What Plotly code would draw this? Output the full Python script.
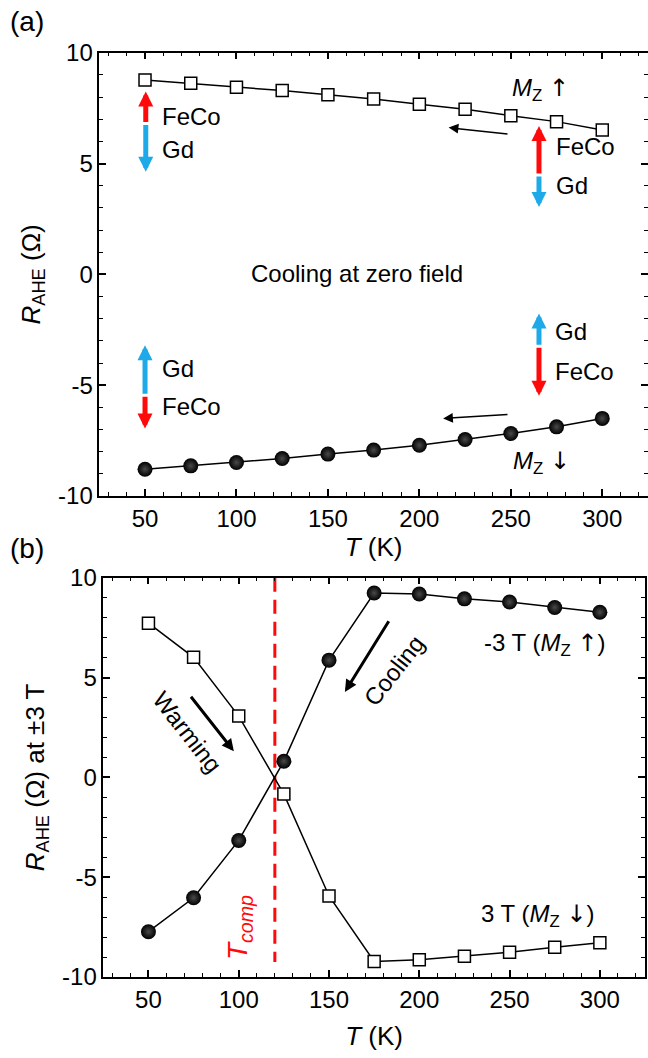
import plotly.graph_objects as go

# ---------------- data ----------------
T = [50, 75, 100, 125, 150, 175, 200, 225, 250, 275, 300]

# panel (a): cooling at zero field
RA_MZ_UP = [8.77, 8.62, 8.44, 8.29, 8.10, 7.91, 7.67, 7.45, 7.16, 6.89, 6.51]
RA_MZ_DOWN = [-8.79, -8.64, -8.49, -8.31, -8.11, -7.93, -7.71, -7.45, -7.18, -6.88, -6.50]

# panel (b): R_AHE at +-3 T
RB_MINUS3T = [-7.73, -6.03, -3.16, 0.81, 5.87, 9.23, 9.18, 8.94, 8.78, 8.51, 8.27]
RB_PLUS3T = [7.72, 6.01, 3.07, -0.84, -5.94, -9.22, -9.14, -8.96, -8.76, -8.51, -8.29]

T_COMP = 120
TCOMP_LINE_Y = [10, -9.25]

X_TICKS = [50, 100, 150, 200, 250, 300]
X_TICKTEXT = ["50", "100", "150", "200", "250", "300"]
Y_TICKS = [-10, -5, 0, 5, 10]
Y_TICKTEXT = ["-10", "-5", "0", "5", "10"]
X_MINOR = [t for t in range(30, 330, 10) if t % 50]
Y_MINOR = [v for v in range(-9, 10) if v % 5]

# ---------------- styles ----------------
FONT = "Arial, Liberation Sans, sans-serif"
RED = "#ff0a0a"
BLUE = "#1ea9e8"
W, H = 648, 1058
UP = '<span style="font-family:DejaVu Sans">↑</span>'
DOWN = '<span style="font-family:DejaVu Sans">↓</span>'

fig = go.Figure()

sq_marker = dict(symbol="square", size=12, color="white",
                 line=dict(color="black", width=1.5))
ball_marker = dict(symbol="circle", size=15, color="black",
                   gradient=dict(type="radial", color="#4a4a4a"),
                   line=dict(width=0))
line_style = dict(color="black", width=1.5)

fig.add_trace(go.Scatter(x=T, y=RA_MZ_UP, mode="lines+markers", xaxis="x", yaxis="y",
                         line=line_style, marker=sq_marker, showlegend=False))
fig.add_trace(go.Scatter(x=T, y=RA_MZ_DOWN, mode="lines+markers", xaxis="x", yaxis="y",
                         line=line_style, marker=ball_marker, showlegend=False))

fig.add_trace(go.Scatter(x=[T_COMP, T_COMP], y=TCOMP_LINE_Y, mode="lines", xaxis="x2", yaxis="y2",
                         line=dict(color=RED, width=3, dash="14px,8px"), showlegend=False))
fig.add_trace(go.Scatter(x=T, y=RB_PLUS3T, mode="lines+markers", xaxis="x2", yaxis="y2",
                         line=line_style, marker=sq_marker, showlegend=False))
fig.add_trace(go.Scatter(x=T, y=RB_MINUS3T, mode="lines+markers", xaxis="x2", yaxis="y2",
                         line=line_style, marker=ball_marker, showlegend=False))

axis_common = dict(
    showline=True, linecolor="black", linewidth=1.5, mirror="ticks",
    ticks="inside", ticklen=7, tickwidth=1.5, tickcolor="black",
    showgrid=False, zeroline=False, automargin=False,
    tickfont=dict(family=FONT, size=24, color="black"),
)
x_common = dict(axis_common, range=[25, 325], tickmode="array",
                tickvals=X_TICKS, ticktext=X_TICKTEXT,
                minor=dict(tickmode="array", tickvals=X_MINOR, ticks="inside", ticklen=4,
                           tickwidth=1.2, tickcolor="black", showgrid=False))
y_common = dict(axis_common, range=[-10, 10], tickmode="array",
                tickvals=Y_TICKS, ticktext=Y_TICKTEXT,
                minor=dict(tickmode="array", tickvals=Y_MINOR, ticks="inside", ticklen=4,
                           tickwidth=1.2, tickcolor="black", showgrid=False))
XTITLE_FONT = dict(family=FONT, size=26, color="black")

fig.update_layout(
    width=W, height=H,
    margin=dict(l=0, r=0, t=0, b=0, autoexpand=False),
    paper_bgcolor="white", plot_bgcolor="white",
    font=dict(family=FONT, size=24, color="black"),
    xaxis=dict(x_common, domain=[99.3 / W, 1.0], anchor="y",
               title=dict(text="<i>T</i> (K)", font=XTITLE_FONT, standoff=6)),
    yaxis=dict(y_common, domain=[1 - 496 / H, 1 - 52.7 / H], anchor="x",
               title=dict(text="<i>R</i><sub>AHE</sub> (Ω)",
                          font=dict(family=FONT, size=26, color="black"), standoff=10)),
    xaxis2=dict(x_common, domain=[103.3 / W, 645 / W], anchor="y2",
                title=dict(text="<i>T</i> (K)", font=XTITLE_FONT, standoff=15)),
    yaxis2=dict(y_common, domain=[1 - 977 / H, 1 - 577.7 / H], anchor="x2",
                title=dict(text="<i>R</i><sub>AHE</sub> (Ω) at ±3 T",
                           font=dict(family=FONT, size=26, color="black"), standoff=10)),
)

ann = []


def text(xr, yr, x, y, s, size=24, color="black", xanchor="center", angle=0):
    ann.append(dict(xref=xr, yref=yr, x=x, y=y, text=s, showarrow=False,
                    xanchor=xanchor, yanchor="middle", textangle=angle,
                    font=dict(family=FONT, size=size, color=color)))


def arrow(xr, yr, x_tail, y_tail, x_head, y_head, color, width, size, head=2):
    ann.append(dict(xref=xr, yref=yr, axref=xr, ayref=yr,
                    x=x_head, y=y_head, ax=x_tail, ay=y_tail, text="",
                    showarrow=True, arrowhead=head, arrowsize=size,
                    arrowwidth=width, arrowcolor=color, standoff=0, startstandoff=0))


# panel labels
text("paper", "paper", 8 / W, 1 - 22 / H, "(a)", size=28, xanchor="left")
text("paper", "paper", 8 / W, 1 - 548 / H, "(b)", size=28, xanchor="left")

# ---- panel (a) annotations ----
text("x", "y", 166, 0.05, "Cooling at zero field")
text("x", "y", 266, 8.35, "<i>M</i><sub>Z</sub> " + UP)
text("x", "y", 267, -8.5, "<i>M</i><sub>Z</sub> " + DOWN)
arrow("x", "y", 249, 6.32, 216, 6.62, "black", 1.5, 1.3)
arrow("x", "y", 249, -6.32, 213, -6.5, "black", 1.5, 1.3)

# moment arrows: (T, centre, up tip, down tip, up color, down color)
MOMENTS = [
    (50.4, 6.81, 8.25, 4.63, RED, BLUE),
    (265.4, 4.48, 6.69, 3.04, RED, BLUE),
    (50.0, -5.45, -3.2, -6.95, BLUE, RED),
    (265.4, -3.24, -1.77, -5.48, BLUE, RED),
]
for tx, yc, yup, ydn, cu, cd in MOMENTS:
    arrow("x", "y", tx, yc, tx, yup, cu, 5, 0.6)
    arrow("x", "y", tx, yc, tx, ydn, cd, 5, 0.6)

text("x", "y", 58.4, 7.14, "FeCo", xanchor="left")
text("x", "y", 58.4, 5.61, "Gd", xanchor="left")
text("x", "y", 273.5, 5.76, "FeCo", xanchor="left")
text("x", "y", 273.5, 4.02, "Gd", xanchor="left")
text("x", "y", 58.4, -4.25, "Gd", xanchor="left")
text("x", "y", 58.4, -5.95, "FeCo", xanchor="left")
text("x", "y", 272.8, -2.59, "Gd", xanchor="left")
text("x", "y", 272.8, -4.4, "FeCo", xanchor="left")

# ---- panel (b) annotations ----
text("x2", "y2", 269.5, 6.63, "-3 T (<i>M</i><sub>Z</sub> " + UP + ")")
text("x2", "y2", 265.6, -6.94, "3 T (<i>M</i><sub>Z</sub> " + DOWN + ")")
text("x2", "y2", 71.9, 2.27, "Warming", angle=52)
text("x2", "y2", 185.9, 5.37, "Cooling", angle=-52)
arrow("x2", "y2", 72.9, 4.11, 97.3, 1.31, "black", 3, 0.8)
arrow("x2", "y2", 183.6, 7.89, 158.8, 4.28, "black", 3, 0.8)
text("x2", "y2", 100.5, -7.52, "<i>T<sub>comp</sub></i>", size=28, color=RED, angle=-90)

fig.update_layout(annotations=ann)

fig.write_html("out.html", config={"displayModeBar": False},
               post_script="document.body.style.margin='0';document.body.style.overflow='hidden';")
